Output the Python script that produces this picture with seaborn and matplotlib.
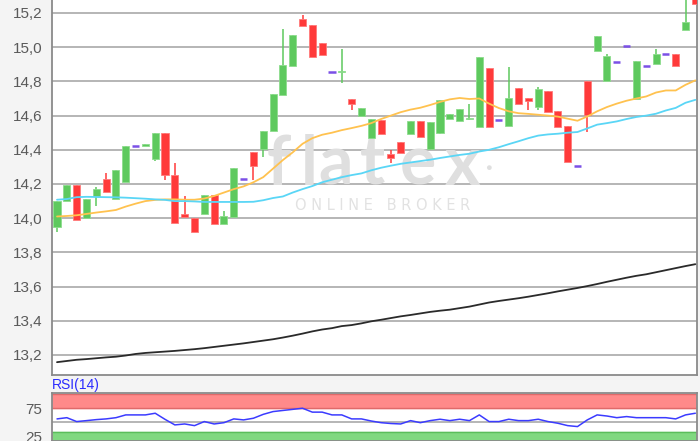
import matplotlib
matplotlib.use("Agg")
import matplotlib.pyplot as plt
import matplotlib.ticker as mticker
import seaborn as sns
import numpy as np
import pandas as pd

# --- candle data ---
opens = [13.95, 14.10, 14.195, 14.00, 14.13, 14.23, 14.11, 14.21, 14.42, 14.42,
         14.345, 14.50, 14.255, 14.025, 14.00, 14.025, 14.133, 13.966, 14.005, 14.23,
         14.39, 14.406, 14.512, 14.722, 14.888, 15.167, 15.128, 15.024, 14.855, 14.853,
         14.697, 14.60, 14.469, 14.572, 14.377, 14.443, 14.492, 14.566, 14.405, 14.501,
         14.58, 14.57, 14.578, 14.533, 14.878, 14.572, 14.541, 14.761, 14.703, 14.65,
         14.742, 14.625, 14.537, 14.307, 14.80, 14.98, 14.80, 14.913, 15.005, 14.697,
         14.892, 14.904, 14.962, 14.96, 15.10, 15.32]
closes = [14.10, 14.195, 13.99, 14.11, 14.17, 14.155, 14.28, 14.42, 14.42, 14.435,
          14.50, 14.255, 13.97, 14.005, 13.92, 14.133, 13.966, 14.01, 14.294, 14.23,
          14.303, 14.512, 14.726, 14.894, 15.069, 15.122, 14.94, 14.956, 14.855, 14.863,
          14.67, 14.644, 14.582, 14.492, 14.352, 14.381, 14.566, 14.475, 14.562, 14.689,
          14.611, 14.64, 14.584, 14.942, 14.533, 14.572, 14.703, 14.668, 14.683, 14.756,
          14.621, 14.531, 14.326, 14.307, 14.605, 15.067, 14.946, 14.913, 15.005, 14.917,
          14.892, 14.96, 14.962, 14.888, 15.149, 15.254]
highs = [14.10, 14.195, 14.195, 14.11, 14.185, 14.265, 14.28, 14.42, 14.42, 14.435,
         14.50, 14.50, 14.32, 14.127, 14.00, 14.133, 14.133, 14.04, 14.294, 14.23,
         14.39, 14.512, 14.726, 15.106, 15.069, 15.186, 15.128, 15.024, 14.855, 14.99,
         14.697, 14.644, 14.582, 14.572, 14.397, 14.443, 14.566, 14.566, 14.562, 14.689,
         14.611, 14.64, 14.666, 14.942, 14.878, 14.572, 14.884, 14.761, 14.703, 14.765,
         14.742, 14.625, 14.537, 14.307, 14.80, 15.067, 14.96, 14.913, 15.005, 14.917,
         14.892, 14.99, 14.962, 14.96, 15.32, 15.35]
lows = [13.92, 14.10, 13.99, 14.00, 14.07, 14.155, 14.11, 14.21, 14.42, 14.42,
        14.335, 14.225, 13.97, 14.005, 13.92, 14.025, 13.966, 13.966, 14.005, 14.23,
        14.225, 14.36, 14.512, 14.722, 14.888, 15.122, 14.94, 14.956, 14.855, 14.79,
        14.63, 14.60, 14.469, 14.492, 14.323, 14.381, 14.492, 14.475, 14.40, 14.49,
        14.58, 14.57, 14.576, 14.533, 14.533, 14.572, 14.541, 14.668, 14.63, 14.634,
        14.621, 14.531, 14.326, 14.307, 14.502, 14.98, 14.80, 14.913, 15.005, 14.697,
        14.892, 14.904, 14.962, 14.888, 15.10, 15.254]

# moving averages
ma_short = [14.01, 14.013, 14.017, 14.025, 14.033, 14.04, 14.048, 14.068, 14.085, 14.10,
            14.107, 14.11, 14.11, 14.108, 14.108, 14.115, 14.13, 14.15, 14.17, 14.186,
            14.21, 14.24, 14.29, 14.34, 14.385, 14.435, 14.468, 14.488, 14.50, 14.515,
            14.527, 14.54, 14.556, 14.58, 14.60, 14.62, 14.635, 14.646, 14.662, 14.68,
            14.695, 14.703, 14.697, 14.70, 14.67, 14.644, 14.625, 14.614, 14.61, 14.605,
            14.60, 14.594, 14.582, 14.57, 14.595, 14.625, 14.65, 14.67, 14.687, 14.70,
            14.712, 14.735, 14.747, 14.747, 14.78, 14.806]
ma_mid = [14.108, 14.112, 14.123, 14.125, 14.124, 14.123, 14.122, 14.12, 14.117, 14.114,
          14.11, 14.107, 14.10, 14.10, 14.098, 14.095, 14.095, 14.095, 14.095, 14.095,
          14.096, 14.105, 14.118, 14.127, 14.15, 14.17, 14.188, 14.21, 14.225, 14.24,
          14.252, 14.262, 14.28, 14.295, 14.307, 14.318, 14.326, 14.334, 14.342, 14.352,
          14.361, 14.37, 14.377, 14.39, 14.40, 14.415, 14.433, 14.45, 14.468, 14.483,
          14.49, 14.494, 14.50, 14.504, 14.525, 14.547, 14.556, 14.566, 14.58, 14.592,
          14.60, 14.611, 14.63, 14.645, 14.675, 14.692]
ma_long = [13.158, 13.165, 13.172, 13.176, 13.181, 13.186, 13.19, 13.197, 13.206, 13.212,
           13.216, 13.22, 13.224, 13.229, 13.234, 13.24, 13.247, 13.254, 13.261, 13.268,
           13.276, 13.284, 13.292, 13.302, 13.313, 13.325, 13.338, 13.349, 13.357, 13.369,
           13.375, 13.385, 13.397, 13.406, 13.416, 13.426, 13.434, 13.443, 13.452, 13.459,
           13.465, 13.474, 13.483, 13.495, 13.507, 13.516, 13.524, 13.532, 13.541, 13.551,
           13.561, 13.572, 13.582, 13.592, 13.603, 13.615, 13.628, 13.64, 13.652, 13.663,
           13.672, 13.684, 13.696, 13.708, 13.72, 13.731]
rsi = [55.8, 58, 51, 52.7, 54.5, 55.8, 58, 63, 63, 63,
       66, 55, 45, 46.7, 43.7, 51, 46.7, 49, 55.8, 54,
       57, 64, 69, 71, 73, 75, 68, 68, 63, 63,
       55.8, 55.8, 52, 49, 47.5, 46.7, 52.7, 49, 52.7, 55.2,
       52.7, 55.2, 52.7, 63, 51, 51, 55.2, 52.7, 52.7, 55.2,
       51, 48, 43.7, 42, 54, 63, 61, 58, 60, 58,
       58, 58, 58, 55.8, 63, 66]

price_ticks = [13.2, 13.4, 13.6, 13.8, 14.0, 14.2, 14.4, 14.6, 14.8, 15.0, 15.2]
rsi_ticks = [25, 75]

df = pd.DataFrame({"open": opens, "close": closes, "high": highs, "low": lows,
                   "ma_short": ma_short, "ma_mid": ma_mid, "ma_long": ma_long, "rsi": rsi})
df["idx"] = np.arange(len(df))

sns.set_style("white")
plt.rcParams["font.family"] = ["Liberation Sans", "DejaVu Sans"]

GREEN = "#5ec95e"
RED = "#ff3a3a"
PURPLE = "#7b50e6"
GRID = "#b5b5b5"
TICK = "#5a5a5a"
WM = "#dfdfdf"

fig = plt.figure(figsize=(7, 4.41), dpi=100, facecolor="#f4f4f4")
ax = fig.add_axes([52 / 700, 66 / 441, 645 / 700, 375 / 441])
ax_rsi = fig.add_axes([52 / 700, 0, 645 / 700, 48.3 / 441])

# ---- price panel ----
ax.set_facecolor("white")
for y in price_ticks:
    ax.axhline(y, color=GRID, lw=1.4, zorder=1)

# watermark, letters spaced out like the logo
for ch, xf in zip("flatex", [0.352, 0.398, 0.440, 0.497, 0.567, 0.637]):
    ax.text(xf, 0.507, ch, transform=ax.transAxes, ha="center", va="baseline",
            fontsize=49, fontweight="bold", color=WM, fontfamily="Lato", zorder=1.5)
ax.text(0.676, 0.553, "\u25cf", transform=ax.transAxes, ha="center", va="center",
        fontsize=8, color=WM, zorder=1.5)
ax.text(0.513, 0.451, "O N L I N E   B R O K E R", transform=ax.transAxes, ha="center",
        va="center", fontsize=10.5, color="#e2e2e2", fontfamily="DejaVu Sans", zorder=1.5)

up = df["close"] > df["open"]
dn = df["close"] < df["open"]
flat = df["close"] == df["open"]

ax.vlines(df.loc[up, "idx"], df.loc[up, "low"], df.loc[up, "high"], color=GREEN, lw=1.1, zorder=3)
ax.vlines(df.loc[dn, "idx"], df.loc[dn, "low"], df.loc[dn, "high"], color=RED, lw=1.1, zorder=3)
ax.bar(df.loc[up, "idx"], df.loc[up, "close"] - df.loc[up, "open"], bottom=df.loc[up, "open"],
       width=0.72, color=GREEN, edgecolor="#8ddc8d", lw=0.6, zorder=4)
ax.bar(df.loc[dn, "idx"], df.loc[dn, "open"] - df.loc[dn, "close"], bottom=df.loc[dn, "close"],
       width=0.72, color=RED, edgecolor="#ff7a7a", lw=0.6, zorder=4)
ax.hlines(df.loc[flat, "close"], df.loc[flat, "idx"] - 0.36, df.loc[flat, "idx"] + 0.36,
          color=PURPLE, lw=1.8, zorder=4)

sns.lineplot(data=df, x="idx", y="ma_short", ax=ax, color="#ffc24f", lw=1.3, zorder=5)
sns.lineplot(data=df, x="idx", y="ma_mid", ax=ax, color="#5ad6f6", lw=1.3, zorder=5)
sns.lineplot(data=df, x="idx", y="ma_long", ax=ax, color="#2a2a2a", lw=1.3, zorder=5)

ax.set_xlim(-0.51, 65.17)
ax.set_ylim(13.083, 15.276)
ax.set_yticks(price_ticks)
ax.yaxis.set_major_formatter(mticker.FuncFormatter(lambda v, p: f"{v:.1f}".replace(".", ",")))
ax.set_xticks([])
ax.set_xlabel("")
ax.set_ylabel("")
ax.tick_params(axis="y", length=0, pad=7, labelsize=11, labelcolor=TICK)
for side in ["left", "bottom", "right"]:
    ax.spines[side].set_color("#8a8a8a")
    ax.spines[side].set_linewidth(1.3)
ax.spines["top"].set_visible(False)

# ---- RSI panel ----
ax_rsi.set_facecolor("white")
ax_rsi.axhspan(75, 101.5, color="#ff8a8a", zorder=1)
ax_rsi.axhline(75, color="#e06a6a", lw=1.0, zorder=2)
ax_rsi.axhline(101.5, color="#e06a6a", lw=1.0, zorder=2)
ax_rsi.axhspan(0, 32, color="#80d880", zorder=1)
ax_rsi.axhline(32, color="#5bbd5b", lw=1.0, zorder=2)
ax_rsi.axhline(50, color=GRID, lw=1.4, zorder=1)
sns.lineplot(data=df, x="idx", y="rsi", ax=ax_rsi, color="#3b3bff", lw=1.1, zorder=5)
ax_rsi.set_xlim(-0.51, 65.17)
ax_rsi.set_ylim(16, 103)
ax_rsi.set_yticks(rsi_ticks)
ax_rsi.set_xticks([])
ax_rsi.set_xlabel("")
ax_rsi.set_ylabel("")
ax_rsi.tick_params(axis="y", length=0, pad=7, labelsize=11, labelcolor=TICK)
for side in ["left", "top", "right", "bottom"]:
    ax_rsi.spines[side].set_color("#8a8a8a")
    ax_rsi.spines[side].set_linewidth(1.3)

fig.text(52 / 700, 1 - 385 / 441, "RSI(14)", color="#2b2bff", fontsize=10, va="center", ha="left")

fig.savefig("out.png", dpi=100, facecolor=fig.get_facecolor())
